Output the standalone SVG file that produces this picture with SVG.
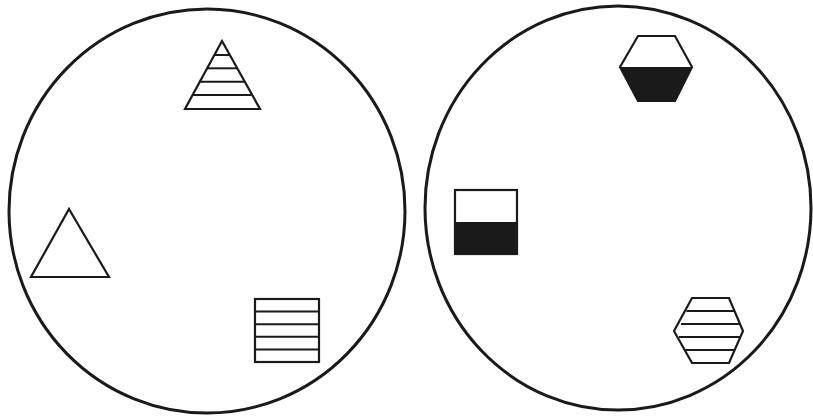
<svg xmlns="http://www.w3.org/2000/svg" width="813" height="420" viewBox="0 0 813 420">
<style>
.c{fill:none;stroke:#1a1a1a;stroke-width:3}
.s{fill:#fff;stroke:#1a1a1a;stroke-width:2.2;stroke-linejoin:miter}
.l{stroke:#1a1a1a;stroke-width:2}
.k{fill:#1a1a1a}
</style>
<rect width="813" height="420" fill="#fff"/>
<g id="left-circle">
<ellipse class="c" cx="207" cy="211" rx="198" ry="202"/>
</g>
<g id="right-circle">
<ellipse class="c" cx="618" cy="208" rx="193" ry="202"/>
</g>
<g id="striped-triangle">
<polygon class="s" points="222,41 260,109 185,109"/>
<line class="l" x1="214.2" y1="55" x2="229.8" y2="55"/>
<line class="l" x1="206.9" y1="68.3" x2="237.1" y2="68.3"/>
<line class="l" x1="199.5" y1="81.7" x2="244.5" y2="81.7"/>
<line class="l" x1="192.5" y1="95" x2="251.5" y2="95"/>
</g>
<g id="plain-triangle">
<polygon class="s" points="69,209 109,277 31,277"/>
</g>
<g id="striped-square">
<rect class="s" x="255" y="299" width="64" height="63"/>
<line class="l" x1="255" y1="311.6" x2="319" y2="311.6"/>
<line class="l" x1="255" y1="324.2" x2="319" y2="324.2"/>
<line class="l" x1="255" y1="336.8" x2="319" y2="336.8"/>
<line class="l" x1="255" y1="349.4" x2="319" y2="349.4"/>
</g>
<g id="half-square">
<rect class="k" x="455" y="222" width="62" height="32"/>
<rect class="s" x="455" y="190" width="62" height="64" fill="none" style="fill:none"/>
</g>
<g id="half-hexagon">
<polygon class="k" points="620,67 692,67 675,101 638,101"/>
<polygon class="s" points="638,36 675,36 692,67 675,101 638,101 620,67" style="fill:none"/>
</g>
<g id="striped-hexagon">
<polygon class="s" points="692,298 729,298 743,331 729,363 692,363 674,331"/>
<line class="l" x1="686.5" y1="311" x2="734.5" y2="311"/>
<line class="l" x1="681" y1="324" x2="740" y2="324"/>
<line class="l" x1="679" y1="337" x2="740.5" y2="337"/>
<line class="l" x1="684.5" y1="350" x2="734.7" y2="350"/>
</g>
</svg>
